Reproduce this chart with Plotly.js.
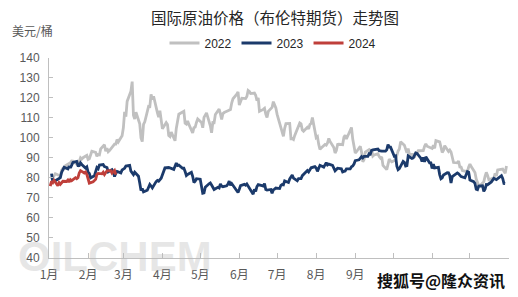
<!DOCTYPE html>
<html>
<head>
<meta charset="utf-8">
<script src="https://cdn.plot.ly/plotly-3.0.1.min.js"></script>
<style>html,body{margin:0;padding:0;background:#fff;}#chart{width:518px;height:297px;}</style>
</head>
<body>
<div id="chart"></div>
<script>
// ---- Data (Brent futures, USD/bbl) ----
const seriesNames = ["2022", "2023", "2024"];
const monthLabels = ["1月","2月","3月","4月","5月","6月","7月","8月","9月","10月","11月","12月"];

const dates2022 = [
"01-03","01-04","01-05","01-06","01-07","01-10","01-11","01-12","01-13","01-14","01-18","01-19","01-20","01-21","01-24","01-25","01-26","01-27","01-28","01-31",
"02-01","02-02","02-03","02-04","02-07","02-08","02-09","02-10","02-11","02-14","02-15","02-16","02-17","02-18","02-22","02-23","02-24","02-25","02-28",
"03-01","03-02","03-03","03-04","03-07","03-08","03-09","03-10","03-11","03-14","03-15","03-16","03-17","03-18","03-21","03-22","03-23","03-24","03-25","03-28","03-29","03-30","03-31",
"04-01","04-04","04-05","04-06","04-07","04-08","04-11","04-12","04-13","04-14","04-18","04-19","04-20","04-21","04-22","04-25","04-26","04-27","04-28","04-29",
"05-02","05-03","05-04","05-05","05-06","05-09","05-10","05-11","05-12","05-13","05-16","05-17","05-18","05-19","05-20","05-23","05-24","05-25","05-26","05-27","05-30","05-31",
"06-01","06-02","06-03","06-06","06-07","06-08","06-09","06-10","06-13","06-14","06-15","06-16","06-17","06-20","06-21","06-22","06-23","06-24","06-27","06-28","06-29","06-30",
"07-01","07-05","07-06","07-07","07-08","07-11","07-12","07-13","07-14","07-15","07-18","07-19","07-20","07-21","07-22","07-25","07-26","07-27","07-28","07-29",
"08-01","08-02","08-03","08-04","08-05","08-08","08-09","08-10","08-11","08-12","08-15","08-16","08-17","08-18","08-19","08-22","08-23","08-24","08-25","08-26","08-29","08-30","08-31",
"09-01","09-02","09-05","09-06","09-07","09-08","09-09","09-12","09-13","09-14","09-15","09-16","09-19","09-20","09-21","09-22","09-23","09-26","09-27","09-28","09-29","09-30",
"10-03","10-04","10-05","10-06","10-07","10-10","10-11","10-12","10-13","10-14","10-17","10-18","10-19","10-20","10-21","10-24","10-25","10-26","10-27","10-28","10-31",
"11-01","11-02","11-03","11-04","11-07","11-08","11-09","11-10","11-11","11-14","11-15","11-16","11-17","11-18","11-21","11-22","11-23","11-24","11-25","11-28","11-29","11-30",
"12-01","12-02","12-05","12-06","12-07","12-08","12-09","12-12","12-13","12-14","12-15","12-16","12-19","12-20","12-21","12-22","12-23","12-27","12-28","12-29","12-30"];
const values2022 = [
78.98,80.00,80.80,81.99,81.75,80.87,83.72,84.67,84.47,86.06,87.51,88.44,88.38,87.89,86.27,88.20,89.96,89.34,90.03,91.21,
89.16,89.47,91.11,93.27,92.69,90.78,91.55,91.41,94.44,96.48,93.28,94.81,92.97,93.54,96.84,96.84,99.08,97.93,100.99,
104.97,112.93,110.46,118.11,123.21,127.98,111.14,109.33,112.67,106.90,99.91,98.02,106.64,107.93,115.62,115.48,121.60,119.03,120.65,112.48,110.23,113.45,107.91,
104.39,107.53,106.64,101.07,100.58,102.78,98.48,104.64,108.78,111.70,113.16,107.25,106.80,108.33,106.65,102.32,104.99,105.32,107.59,109.34,
107.58,104.97,110.14,111.55,112.39,105.94,102.46,107.51,107.45,111.55,114.24,111.93,109.11,112.04,112.55,113.42,113.56,114.03,117.40,119.43,121.67,122.84,
116.29,117.61,119.72,119.51,120.57,123.58,123.07,122.01,122.27,121.17,118.51,119.81,113.12,114.13,114.65,111.74,110.05,113.12,115.09,117.98,116.26,114.81,
111.63,102.77,100.69,104.65,107.02,107.10,99.49,99.57,99.10,101.16,106.27,107.35,106.92,103.86,103.20,105.15,104.40,106.62,107.14,110.01,
100.03,100.54,96.78,94.12,94.92,96.65,96.31,97.40,99.60,98.15,95.10,92.34,93.65,96.59,96.72,96.48,100.22,101.22,99.34,100.99,105.09,99.31,96.49,
92.36,93.02,95.74,92.83,88.00,89.15,92.84,94.00,93.17,94.10,90.84,91.35,92.00,90.62,89.83,90.46,86.15,84.06,86.27,89.32,88.49,87.96,
88.86,91.80,93.37,94.42,97.92,96.19,94.29,92.45,94.57,91.63,91.62,90.03,92.41,92.38,93.50,93.26,93.52,95.69,96.96,95.77,94.83,
94.65,96.16,94.67,98.57,97.92,95.36,92.65,93.67,95.99,93.14,93.86,92.86,89.78,87.62,87.45,88.36,85.41,85.34,83.63,83.19,83.03,85.43,
86.88,85.57,82.68,79.35,77.17,76.15,76.10,77.99,80.68,82.70,81.21,79.04,79.80,79.99,82.20,80.98,83.92,84.33,83.26,82.26,85.91];

const dates2023 = [
"01-03","01-04","01-05","01-06","01-09","01-10","01-11","01-12","01-13","01-16","01-17","01-18","01-19","01-20","01-23","01-24","01-25","01-26","01-27","01-30","01-31",
"02-01","02-02","02-03","02-06","02-07","02-08","02-09","02-10","02-13","02-14","02-15","02-16","02-17","02-20","02-21","02-22","02-23","02-24","02-27","02-28",
"03-01","03-02","03-03","03-06","03-07","03-08","03-09","03-10","03-13","03-14","03-15","03-16","03-17","03-20","03-21","03-22","03-23","03-24","03-27","03-28","03-29","03-30","03-31",
"04-03","04-04","04-05","04-06","04-10","04-11","04-12","04-13","04-14","04-17","04-18","04-19","04-20","04-21","04-24","04-25","04-26","04-27","04-28",
"05-01","05-02","05-03","05-04","05-05","05-08","05-09","05-10","05-11","05-12","05-15","05-16","05-17","05-18","05-19","05-22","05-23","05-24","05-25","05-26","05-30","05-31",
"06-01","06-02","06-05","06-06","06-07","06-08","06-09","06-12","06-13","06-14","06-15","06-16","06-19","06-20","06-21","06-22","06-23","06-26","06-27","06-28","06-29","06-30",
"07-03","07-04","07-05","07-06","07-07","07-10","07-11","07-12","07-13","07-14","07-17","07-18","07-19","07-20","07-21","07-24","07-25","07-26","07-27","07-28","07-31",
"08-01","08-02","08-03","08-04","08-07","08-08","08-09","08-10","08-11","08-14","08-15","08-16","08-17","08-18","08-21","08-22","08-23","08-24","08-25","08-28","08-29","08-30","08-31",
"09-01","09-04","09-05","09-06","09-07","09-08","09-11","09-12","09-13","09-14","09-15","09-18","09-19","09-20","09-21","09-22","09-25","09-26","09-27","09-28","09-29",
"10-02","10-03","10-04","10-05","10-06","10-09","10-10","10-11","10-12","10-13","10-16","10-17","10-18","10-19","10-20","10-23","10-24","10-25","10-26","10-27","10-30","10-31",
"11-01","11-02","11-03","11-06","11-07","11-08","11-09","11-10","11-13","11-14","11-15","11-16","11-17","11-20","11-21","11-22","11-23","11-24","11-27","11-28","11-29","11-30",
"12-01","12-04","12-05","12-06","12-07","12-08","12-11","12-12","12-13","12-14","12-15","12-18","12-19","12-20","12-21","12-22","12-26","12-27","12-28","12-29"];
const values2023 = [
82.10,77.84,78.69,78.57,79.65,80.10,82.67,84.03,85.28,84.46,85.92,84.98,86.16,87.63,88.19,86.13,86.12,87.47,86.66,84.90,85.46,
82.84,82.17,79.94,80.99,83.69,85.09,84.50,86.39,86.61,85.58,85.38,85.14,83.00,84.07,83.05,80.60,82.21,83.16,82.45,83.89,
84.31,84.75,85.83,86.18,83.29,82.66,81.59,82.78,80.77,77.45,73.69,74.70,72.97,73.79,75.32,76.69,75.91,74.99,78.12,78.65,78.28,79.27,79.77,
84.93,84.94,84.99,85.12,84.18,85.61,87.33,86.09,86.31,84.76,84.77,83.12,81.10,81.66,82.73,80.77,77.69,78.37,79.54,
79.31,75.32,72.33,72.50,75.30,77.01,77.44,76.41,74.98,74.17,75.23,74.91,76.96,75.86,75.58,75.99,76.84,78.36,76.26,77.12,73.54,72.66,
74.28,76.13,76.71,76.29,76.95,75.96,74.79,71.84,74.29,73.20,75.67,76.61,76.09,75.90,77.12,74.14,73.85,74.18,72.26,74.03,74.34,74.90,
74.65,76.25,76.65,76.52,78.47,77.69,79.40,80.11,81.36,79.87,78.50,79.63,79.46,79.64,81.07,82.74,83.64,82.92,84.24,84.99,85.56,
84.91,83.20,85.14,86.24,85.34,86.17,87.55,86.40,86.81,86.21,84.89,83.45,84.12,84.80,84.46,82.96,83.21,83.36,84.48,84.42,85.49,85.86,86.86,
88.55,89.00,90.04,90.60,89.92,90.65,90.64,92.06,91.88,93.70,93.93,94.43,94.34,93.53,93.30,93.27,93.29,93.96,96.55,95.38,95.31,
90.71,90.92,85.81,84.07,84.58,88.15,87.65,85.82,86.00,90.89,89.65,89.90,91.50,92.38,92.16,89.83,88.07,90.13,87.93,90.48,87.45,87.41,
84.63,86.85,84.89,85.18,81.61,79.54,80.01,81.43,82.52,82.47,81.18,77.42,80.61,82.32,82.45,81.96,81.42,80.58,79.98,81.68,83.10,82.83,
78.88,78.03,77.20,74.30,74.05,75.84,76.03,73.24,74.26,76.61,76.55,77.95,79.23,79.70,79.39,79.07,81.07,79.65,77.15,77.04];

const dates2024 = [
"01-02","01-03","01-04","01-05","01-08","01-09","01-10","01-11","01-12","01-15","01-16","01-17","01-18","01-19","01-22","01-23","01-24","01-25","01-26","01-29","01-30","01-31",
"02-01","02-02","02-05","02-06","02-07","02-08","02-09","02-12","02-13","02-14","02-15","02-16","02-19","02-20","02-21","02-22","02-23"];
const values2024 = [
75.89,78.25,77.59,78.76,76.12,77.59,76.80,77.41,78.29,78.15,78.88,77.88,79.10,78.56,80.06,79.55,80.04,82.43,83.55,82.40,82.87,81.71,
78.70,77.33,77.99,78.59,79.21,81.63,82.19,82.00,82.77,81.60,82.86,83.47,83.56,82.34,83.03,83.67,81.62];

// ---- helpers: map month-day to day of year on a common axis ----
function dayOfYear(md) {
  const [m, d] = md.split("-").map(Number);
  return (Date.UTC(2023, m - 1, d) - Date.UTC(2023, 0, 1)) / 86400000;
}
const monthStarts = [];
for (let m = 0; m < 12; m++) monthStarts.push((Date.UTC(2023, m, 1) - Date.UTC(2023, 0, 1)) / 86400000);
monthStarts.push(365);

const FONT = "Liberation Sans, Arial, Noto Sans CJK SC, sans-serif";
const CJK = "Noto Sans CJK SC, Liberation Sans, sans-serif";
const colors = ["#c0c0c0", "#1b3a6b", "#bf3f3a"];
const allDates = [dates2022, dates2023, dates2024];
const allValues = [values2022, values2023, values2024];

const traces = seriesNames.map((name, i) => ({
  type: "scatter",
  mode: "lines",
  name: name,
  x: allDates[i].map(dayOfYear),
  y: allValues[i],
  line: { color: colors[i], width: 2.8 },
  hoverinfo: "skip"
}));

const axisCommon = {
  showline: true, linecolor: "#bfbfbf", linewidth: 1,
  showgrid: false, zeroline: false,
  ticks: "inside", tickcolor: "#bfbfbf", tickwidth: 1,
  tickfont: { family: FONT, size: 12, color: "#595959" },
  fixedrange: true
};

// plot area: left 49, top 53, width 460, height 205
const W = 518, H = 297, L = 49, T = 53, PW = 460, PH = 205;
const px = (x) => (x - L) / PW;
const py = (y) => (T + PH - y) / PH;

const layout = {
  width: W, height: H,
  margin: { l: L, r: W - L - PW, t: T, b: H - T - PH },
  paper_bgcolor: "#ffffff", plot_bgcolor: "#ffffff",
  font: { family: FONT },
  title: {
    text: "国际原油价格（布伦特期货）走势图",
    font: { family: CJK, size: 15.5, color: "#262626" },
    xref: "container", x: 0.531, xanchor: "center",
    yref: "container", y: 1 - 19 / 297, yanchor: "middle"
  },
  showlegend: true,
  legend: {
    orientation: "h",
    xref: "container", x: 0.527, xanchor: "center",
    yref: "container", y: 1 - 43 / 297, yanchor: "middle",
    font: { family: FONT, size: 12, color: "#262626" },
    itemwidth: 30, tracegroupgap: 0,
    bgcolor: "rgba(0,0,0,0)"
  },
  xaxis: Object.assign({}, axisCommon, {
    range: [0, 365],
    tickmode: "array",
    tickvals: monthStarts,
    ticktext: monthLabels.concat([""]),
    ticklen: 5,
    ticklabelstandoff: 6,
    tickfont: { family: CJK, size: 12, color: "#595959" }
  }),
  yaxis: Object.assign({}, axisCommon, {
    range: [40, 140],
    tickmode: "linear", tick0: 40, dtick: 10,
    ticklen: 4,
    ticklabelstandoff: 6
  }),
  annotations: [
    {
      text: "美元/桶", xref: "paper", yref: "paper",
      x: px(10), xanchor: "left", y: py(25), yanchor: "middle",
      showarrow: false, font: { family: CJK, size: 12, color: "#595959" }
    },
    {
      text: "<b>OILCHEM</b>", xref: "paper", yref: "paper",
      x: px(115), xanchor: "center", y: py(256), yanchor: "middle",
      showarrow: false, font: { family: FONT, size: 42, color: "rgba(185,185,185,0.35)" }
    },
    {
      text: "<b>搜狐号@隆众资讯</b>", xref: "paper", yref: "paper",
      x: px(441), xanchor: "center", y: py(280), yanchor: "middle",
      showarrow: false, bgcolor: "#ffffff", borderpad: 2,
      font: { family: CJK, size: 16, color: "#111111" }
    }
  ]
};

Plotly.newPlot("chart", traces, layout, { staticPlot: true, displayModeBar: false });
</script>
</body>
</html>
